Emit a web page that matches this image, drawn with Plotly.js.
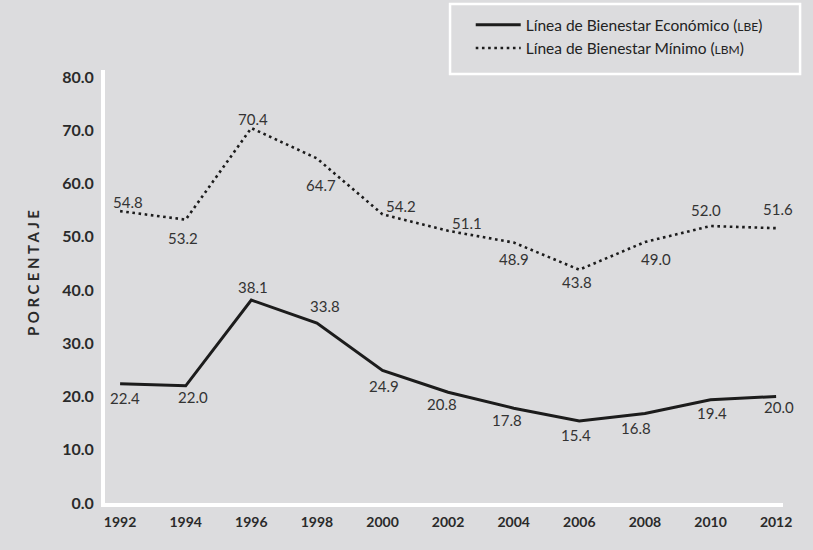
<!DOCTYPE html>
<html>
<head>
<meta charset="utf-8">
<script src="https://cdn.plot.ly/plotly-3.0.1.min.js"></script>
<style>
  html, body { margin: 0; padding: 0; background: #dcdcde; }
  #chart { width: 813px; height: 550px; }
</style>
</head>
<body>
<div id="chart"></div>
<script>
// Años del periodo
const years = [1992, 1994, 1996, 1998, 2000, 2002, 2004, 2006, 2008, 2010, 2012];

// Porcentaje de población bajo cada línea de bienestar
const lbeValues = [22.4, 22.0, 38.1, 33.8, 24.9, 20.8, 17.8, 15.4, 16.8, 19.4, 20.0];
const lbmValues = [54.8, 53.2, 70.4, 64.7, 54.2, 51.1, 48.9, 43.8, 49.0, 52.0, 51.6];

// Nombres de las series
const lbeName = 'Línea de Bienestar Económico (<span style="font-size:12px">LBE</span>)';
const lbmName = 'Línea de Bienestar Mínimo (<span style="font-size:12px">LBM</span>)';

// Etiquetas del eje vertical
const yTickVals = [0, 10, 20, 30, 40, 50, 60, 70, 80];

// Desplazamiento (px) de cada etiqueta de valor respecto a su punto: [dx, dy]
const lbeLabelShift = [[5, -14], [7, -11], [2, 13], [8, 17], [1, -16], [-6, -12],
                       [-7, -12], [-3, -14], [-9, -14], [1, -13], [3, -11]];
const lbmLabelShift = [[8, 9], [-3, -18], [2, 9], [4, -27], [18, 8], [19, 8],
                       [0, -16], [-2, -12], [11, -17], [-5, 16], [2, 19]];

const ink = '#1c1c1c';
const labelFont = { family: 'Lato, sans-serif', size: 15, color: '#333333' };

const traces = [
  {
    x: years, y: lbeValues, name: lbeName,
    type: 'scatter', mode: 'lines',
    line: { color: ink, width: 3 }
  },
  {
    x: years, y: lbmValues, name: lbmName,
    type: 'scatter', mode: 'lines',
    line: { color: ink, width: 2.6, dash: '2.6px,3.6px' }
  }
];

// Etiquetas de valor colocadas sobre cada punto
function valueLabels(values, shifts) {
  return values.map((v, i) => ({
    x: years[i], y: v, xref: 'x', yref: 'y',
    text: v.toFixed(1), showarrow: false,
    xanchor: 'center', yanchor: 'middle',
    xshift: shifts[i][0], yshift: shifts[i][1],
    font: labelFont
  }));
}

const layout = {
  width: 813, height: 550,
  paper_bgcolor: '#dcdcde',
  plot_bgcolor: '#dcdcde',
  margin: { l: 105, r: 30, t: 70, b: 47, autoexpand: false },
  font: { family: 'Lato, sans-serif', color: '#333333' },
  showlegend: true,
  legend: {
    xref: 'container', yref: 'container',
    x: 0.579, y: 0.985, xanchor: 'left', yanchor: 'top',
    bgcolor: 'rgba(0,0,0,0)', borderwidth: 0,
    font: { family: 'Lato, sans-serif', size: 15.5, color: '#222222' },
    itemwidth: 45,
    traceorder: 'normal'
  },
  xaxis: {
    range: [1991.54, 2012.21],
    tickvals: years,
    ticktext: years.map(String),
    showgrid: false, zeroline: false,
    showline: true, linecolor: '#ffffff', linewidth: 4,
    ticks: '', ticklabelstandoff: 3,
    tickfont: { family: 'Lato, sans-serif', size: 14, color: '#2a2a2a', weight: 'bold' }
  },
  yaxis: {
    range: [0, 81.3],
    tickvals: yTickVals,
    ticktext: yTickVals.map(v => v.toFixed(1)),
    showgrid: false, zeroline: false,
    showline: true, linecolor: '#ffffff', linewidth: 4,
    ticks: '', ticklabelstandoff: 4,
    tickfont: { family: 'Lato, sans-serif', size: 16, color: '#2a2a2a', weight: 'bold' }
  },
  shapes: [
    {
      // marco blanco de la leyenda
      type: 'rect', xref: 'paper', yref: 'paper',
      x0: 0.5089, x1: 1.0252, y0: 0.9908, y1: 1.1524,
      line: { color: '#ffffff', width: 2.5 },
      fillcolor: 'rgba(0,0,0,0)', layer: 'below'
    }
  ],
  annotations: [
    {
      text: 'PORCENTAJE',
      xref: 'paper', yref: 'paper',
      x: -0.106, y: 0.535, xanchor: 'center', yanchor: 'middle',
      textangle: -90, showarrow: false,
      font: { family: 'Lato, sans-serif', size: 15, color: '#2a2a2a', weight: 'bold' }
    }
  ].concat(valueLabels(lbeValues, lbeLabelShift), valueLabels(lbmValues, lbmLabelShift))
};

Plotly.newPlot('chart', traces, layout, { displayModeBar: false, staticPlot: true }).then(() => {
  // espaciado entre letras del título vertical
  const title = document.querySelector('.annotation[data-index="0"] .annotation-text');
  if (title) title.style.letterSpacing = '3.5px';
});
</script>
</body>
</html>
